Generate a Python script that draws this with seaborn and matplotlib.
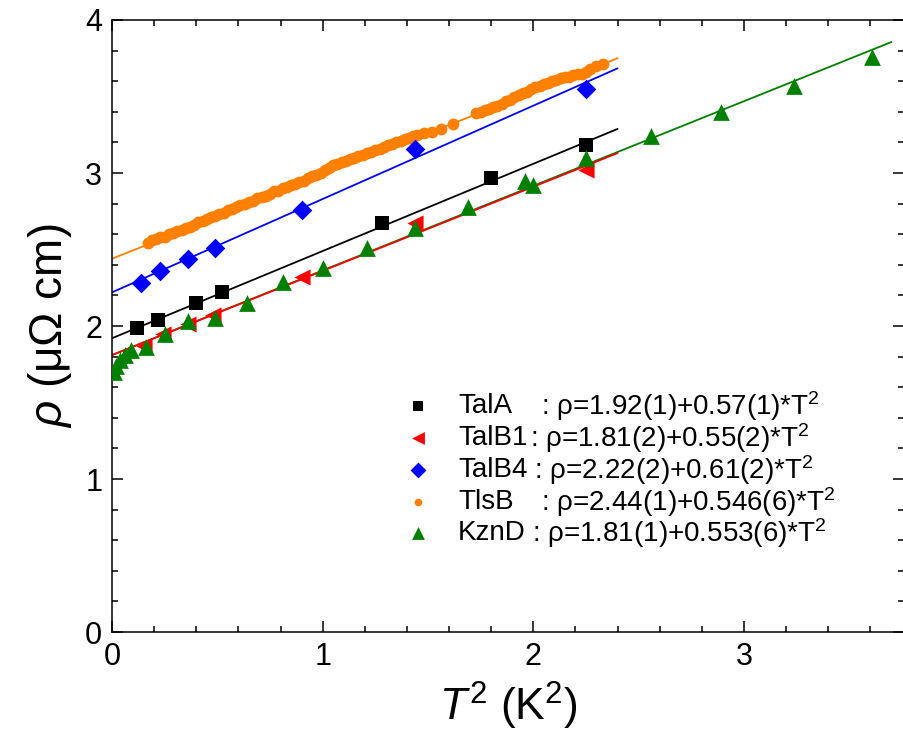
import numpy as np
import pandas as pd
import matplotlib
matplotlib.use("Agg")
import matplotlib.pyplot as plt
import seaborn as sns
from matplotlib.ticker import MultipleLocator

# ---- measured resistivity vs T^2 ----
tala_x = [0.12, 0.22, 0.40, 0.52, 1.28, 1.80, 2.25]
tala_y = [1.99, 2.04, 2.15, 2.22, 2.67, 2.97, 3.18]

talb1_x = [0.15, 0.24, 0.36, 0.48, 0.90, 1.44, 2.25]
talb1_y = [1.87, 1.95, 2.01, 2.07, 2.32, 2.67, 3.02]

talb4_x = [0.14, 0.23, 0.36, 0.49, 0.90, 1.44, 2.25]
talb4_y = [2.28, 2.36, 2.44, 2.51, 2.76, 3.16, 3.55]

tlsb_x = [0.17, 0.19, 0.21, 0.23, 0.25, 0.27, 0.29, 0.31, 0.33, 0.35,
          0.37, 0.39, 0.41, 0.43, 0.45, 0.47, 0.49, 0.51, 0.53, 0.55,
          0.57, 0.59, 0.61, 0.63, 0.65, 0.67, 0.69, 0.71, 0.73, 0.75,
          0.77, 0.79, 0.81, 0.83, 0.85, 0.87, 0.89, 0.91, 0.93, 0.95,
          0.97, 0.99, 1.01, 1.03, 1.05, 1.07, 1.09, 1.11, 1.13, 1.15,
          1.17, 1.19, 1.21, 1.23, 1.25, 1.27, 1.29, 1.31, 1.33, 1.35,
          1.37, 1.39, 1.41, 1.43, 1.45, 1.48, 1.52, 1.56, 1.62, 1.73,
          1.75, 1.77, 1.79, 1.81, 1.83, 1.85, 1.87, 1.89, 1.91, 1.93,
          1.95, 1.97, 1.99, 2.01, 2.03, 2.05, 2.07, 2.09, 2.11, 2.13,
          2.15, 2.17, 2.19, 2.21, 2.23, 2.25, 2.27, 2.30, 2.33]
tlsb_y = [2.54, 2.56, 2.57, 2.58, 2.585, 2.60, 2.61, 2.62, 2.625, 2.64,
          2.65, 2.66, 2.68, 2.685, 2.70, 2.71, 2.72, 2.73, 2.74, 2.76,
          2.765, 2.78, 2.79, 2.80, 2.81, 2.82, 2.835, 2.84, 2.85, 2.86,
          2.88, 2.885, 2.90, 2.91, 2.92, 2.93, 2.94, 2.95, 2.965, 2.98,
          2.99, 3.00, 3.02, 3.035, 3.05, 3.06, 3.07, 3.08, 3.09, 3.10,
          3.11, 3.12, 3.13, 3.14, 3.15, 3.16, 3.17, 3.18, 3.19, 3.20,
          3.21, 3.22, 3.23, 3.24, 3.25, 3.26, 3.27, 3.29, 3.32, 3.39,
          3.40, 3.41, 3.42, 3.43, 3.44, 3.45, 3.47, 3.48, 3.50, 3.51,
          3.52, 3.53, 3.55, 3.56, 3.57, 3.58, 3.59, 3.60, 3.61, 3.62,
          3.63, 3.63, 3.64, 3.65, 3.65, 3.66, 3.68, 3.70, 3.71]

kznd_x = [0.01, 0.02, 0.04, 0.06, 0.09, 0.16, 0.25, 0.36, 0.49, 0.64, 0.81,
          1.00, 1.21, 1.44, 1.69, 1.96, 2.00, 2.25, 2.56, 2.89, 3.24, 3.61]
kznd_y = [1.70, 1.74, 1.78, 1.81, 1.84, 1.86, 1.95, 2.03, 2.05, 2.15, 2.29,
          2.38, 2.51, 2.64, 2.78, 2.95, 2.92, 3.10, 3.24, 3.40, 3.57, 3.76]

# ---- fit parameters rho = a + b*T^2 and fit ranges ----
samples = ["TalA", "TalB1", "TalB4", "TlsB", "KznD"]
fit_a = [1.92, 1.81, 2.22, 2.44, 1.81]
fit_b = [0.57, 0.55, 0.61, 0.546, 0.553]
fit_xmax = [2.4, 2.4, 2.4, 2.4, 3.7]
fit_labels = [": ρ=1.92(1)+0.57(1)*T$^2$",
              ": ρ=1.81(2)+0.55(2)*T$^2$",
              ": ρ=2.22(2)+0.61(2)*T$^2$",
              ": ρ=2.44(1)+0.546(6)*T$^2$",
              ": ρ=1.81(1)+0.553(6)*T$^2$"]

colors = {"TalA": "#000000", "TalB1": "#ff0000", "TalB4": "#0000ff",
          "TlsB": "#ff8000", "KznD": "#008000"}
markers = {"TalA": "s", "TalB1": "<", "TalB4": "D", "TlsB": "o", "KznD": "^"}
sizes = {"TalA": 95, "TalB1": 135, "TalB4": 100, "TlsB": 72, "KznD": 145}

series = {"TalA": (tala_x, tala_y), "TalB1": (talb1_x, talb1_y),
          "TalB4": (talb4_x, talb4_y), "TlsB": (tlsb_x, tlsb_y),
          "KznD": (kznd_x, kznd_y)}

sns.set_theme(style="ticks")
plt.rcParams["font.family"] = ["Liberation Sans", "DejaVu Sans"]
plt.rcParams["mathtext.fontset"] = "custom"
plt.rcParams["mathtext.rm"] = "Liberation Sans"
plt.rcParams["mathtext.it"] = "Liberation Sans:italic"
for key in ["text.color", "axes.labelcolor", "xtick.color", "ytick.color",
            "axes.edgecolor"]:
    plt.rcParams[key] = "black"

fig = plt.figure(figsize=(9.04, 7.38), dpi=100)
ax = fig.add_axes([0.1239, 0.1436, 0.8761, 0.8293])

# fit lines (KznD first so the red TalB1 line sits over it)
for name in ["KznD", "TlsB", "TalB4", "TalA", "TalB1"]:
    i = samples.index(name)
    xs = np.array([0.0, fit_xmax[i]])
    fit_df = pd.DataFrame({"x": xs, "y": fit_a[i] + fit_b[i] * xs})
    sns.lineplot(data=fit_df, x="x", y="y", ax=ax, color=colors[name],
                 linewidth=1.3, legend=False)

# data points
for name in ["TlsB", "TalB4", "TalA", "TalB1", "KznD"]:
    x, y = series[name]
    df = pd.DataFrame({"x": x, "y": y})
    sns.scatterplot(data=df, x="x", y="y", ax=ax, color=colors[name],
                    marker=markers[name], s=sizes[name], linewidth=0,
                    legend=False, zorder=3)

ax.set_xlim(0, 3.76)
ax.set_ylim(0, 4)
ax.xaxis.set_major_locator(MultipleLocator(1))
ax.xaxis.set_minor_locator(MultipleLocator(0.2))
ax.yaxis.set_major_locator(MultipleLocator(1))
ax.yaxis.set_minor_locator(MultipleLocator(0.2))
ax.tick_params(which="both", direction="in", top=True, right=True,
               width=1.1, color="black", labelcolor="black")
ax.tick_params(which="major", length=8, labelsize=22, pad=7)
ax.tick_params(which="minor", length=4.5)
for sp in ax.spines.values():
    sp.set_linewidth(1.1)
    sp.set_color("black")

ax.set_xlabel("$T^2$ (K$^2$)", fontsize=32, labelpad=6)
ax.set_ylabel("$\\rho$ (μΩ cm)", fontsize=33, labelpad=8)

# legend with aligned formulas
row_y = [406, 438, 470, 502, 533]
colon_x = [541, 530, 534, 541, 532]
leg_sizes = {"TalA": 60, "TalB1": 85, "TalB4": 65, "TlsB": 30, "KznD": 85}
W, H = 904.0, 738.0
for i, name in enumerate(samples):
    fy = 1 - row_y[i] / H
    ax.scatter([(418 - 112) / 792.0], [(632 - row_y[i]) / 612.0],
               transform=ax.transAxes, marker=markers[name],
               s=leg_sizes[name], color=colors[name], linewidths=0,
               clip_on=False, zorder=4)
    fig.text(458 / W, fy, name, fontsize=20, va="center", ha="left")
    fig.text(colon_x[i] / W, fy, fit_labels[i], fontsize=20,
             va="center", ha="left")

fig.savefig("out.png", dpi=100)
